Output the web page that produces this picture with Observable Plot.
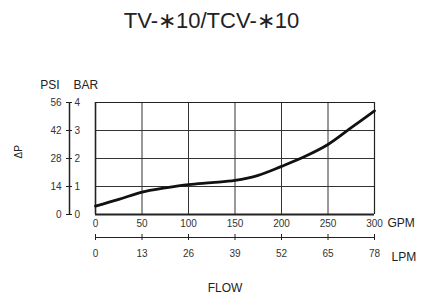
<!DOCTYPE html>
<html>
<head>
<meta charset="utf-8">
<script src="https://cdn.jsdelivr.net/npm/d3@7"></script>
<script src="https://cdn.jsdelivr.net/npm/@observablehq/plot@0.6"></script>
<style>
  html, body { margin: 0; padding: 0; background: #fff; }
  body { width: 423px; height: 297px; overflow: hidden; font-family: "Liberation Sans", Arial, sans-serif; }
  #title { height: 40px; line-height: 42px; text-align: center; font-size: 22px; color: #222; }
  svg { display: block; }
</style>
</head>
<body>
<div id="title">TV-∗10/TCV-∗10</div>
<div id="chart"></div>
<script>
// Flow (GPM) and pressure drop (BAR)
const flowGpm = [0, 25, 50, 75, 100, 125, 150, 175, 200, 225, 250, 275, 300];
const dropBar = [0.3, 0.54, 0.8, 0.95, 1.07, 1.14, 1.22, 1.4, 1.72, 2.07, 2.5, 3.1, 3.7];

const gpmTicks = [0, 50, 100, 150, 200, 250, 300];
const lpmTicks = [0, 13, 26, 39, 52, 65, 78];
const barTicks = [0, 1, 2, 3, 4];
const psiTicks = [0, 14, 28, 42, 56];

const data = flowGpm.map((g, i) => ({gpm: g, bar: dropBar[i]}));
const lpmToGpm = l => l / 78 * 300;
const ink = "#222";
const M = "middle";

const plot = Plot.plot({
  width: 423,
  height: 257,
  marginTop: 62,
  marginBottom: 83,
  marginLeft: 95,
  marginRight: 49,
  style: {fontFamily: "'Liberation Sans', Arial, sans-serif", fontSize: "10px", color: ink, background: "#fff"},
  x: {domain: [0, 300], axis: null},
  y: {domain: [0, 4], axis: null},
  marks: [
    // grid
    Plot.ruleX(gpmTicks.slice(1, -1), {stroke: "#333", strokeWidth: 1}),
    Plot.ruleY(barTicks.slice(1, -1), {stroke: "#333", strokeWidth: 1}),
    // frame
    Plot.ruleX([0], {stroke: ink, strokeWidth: 1.6}),
    Plot.ruleX([300], {stroke: ink, strokeWidth: 1.2}),
    Plot.ruleY([4], {stroke: ink, strokeWidth: 1.2}),
    Plot.ruleY([0], {stroke: ink, strokeWidth: 2}),
    // curve
    Plot.line(data, {x: "gpm", y: "bar", curve: "catmull-rom", stroke: "#111", strokeWidth: 2.8}),
    // GPM tick labels
    Plot.text(gpmTicks, {x: d => d, frameAnchor: "bottom", lineAnchor: M, dy: 9, text: d => String(d), fill: "#333", fontSize: 10}),
    Plot.text(["GPM"], {frameAnchor: "bottom-right", lineAnchor: M, textAnchor: "start", dx: 13, dy: 9, text: d => d, fill: ink, fontSize: 12}),
    // LPM secondary axis
    Plot.ruleY([0], {dy: 23, stroke: ink, strokeWidth: 1.2}),
    Plot.axisX({anchor: "bottom", ticks: lpmTicks.map(lpmToGpm), tickSize: 6, dy: 20, tickFormat: () => "", label: null, stroke: ink}),
    Plot.text(lpmTicks, {x: d => lpmToGpm(d), frameAnchor: "bottom", lineAnchor: M, dy: 39, text: d => String(d), fill: "#333", fontSize: 10}),
    Plot.text(["LPM"], {frameAnchor: "bottom-right", lineAnchor: M, textAnchor: "start", dx: 17, dy: 43, text: d => d, fill: ink, fontSize: 12}),
    Plot.text(["FLOW"], {frameAnchor: "bottom", lineAnchor: M, dx: -10, dy: 74, text: d => d, fill: ink, fontSize: 12}),
    // left dual axis (PSI / BAR)
    Plot.ruleX([0], {dx: -26, y1: 0, y2: 4, stroke: ink, strokeWidth: 1.5}),
    Plot.axisY({anchor: "left", ticks: barTicks, tickSize: 6, dx: -23, tickFormat: () => "", label: null, stroke: ink}),
    Plot.text(barTicks, {y: d => d, frameAnchor: "left", lineAnchor: M, dx: -34, textAnchor: "end", text: (d, i) => String(psiTicks[i]), fill: "#333", fontSize: 10}),
    Plot.text(barTicks, {y: d => d, frameAnchor: "left", lineAnchor: M, dx: -21, textAnchor: "start", text: d => String(d), fill: "#333", fontSize: 10}),
    Plot.text(["PSI"], {frameAnchor: "top-left", lineAnchor: M, dx: -36, dy: -17, textAnchor: "end", text: d => d, fill: ink, fontSize: 12}),
    Plot.text(["BAR"], {frameAnchor: "top-left", lineAnchor: M, dx: -22, dy: -17, textAnchor: "start", text: d => d, fill: ink, fontSize: 12}),
    Plot.text(["ΔP"], {y: [2], frameAnchor: "left", lineAnchor: M, dx: -77, rotate: -90, text: d => d, fill: ink, fontSize: 10})
  ]
});
document.getElementById("chart").appendChild(plot);
</script>
</body>
</html>
